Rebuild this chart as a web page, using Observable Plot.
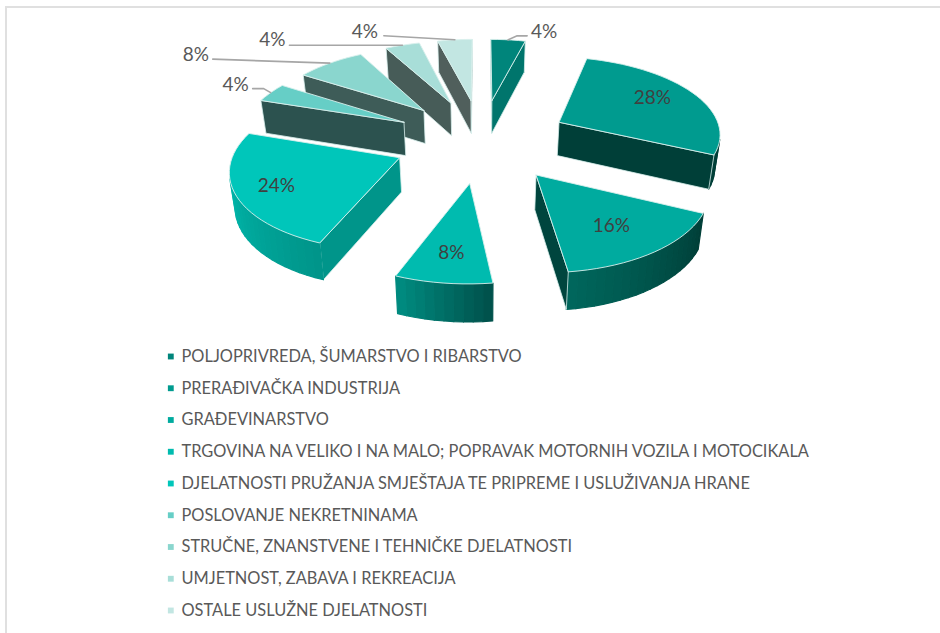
<!DOCTYPE html>
<html>
<head>
<meta charset="utf-8">
<script src="https://cdn.jsdelivr.net/npm/d3@7"></script>
<script src="https://cdn.jsdelivr.net/npm/@observablehq/plot@0.6"></script>
<style>
html,body{margin:0;padding:0;background:#fff;width:940px;height:633px;overflow:hidden}
#frame{position:absolute;left:5px;top:6px;right:-3px;bottom:-3px;border-left:2px solid #e0e0e0;border-top:2px solid #e0e0e0;pointer-events:none}
svg{display:block}
</style>
</head>
<body>
<div id="chart"></div>
<div id="frame"></div>
<script>
const categories = [
  "POLJOPRIVREDA, ŠUMARSTVO I RIBARSTVO",
  "PRERAĐIVAČKA INDUSTRIJA",
  "GRAĐEVINARSTVO",
  "TRGOVINA NA VELIKO I NA MALO; POPRAVAK MOTORNIH VOZILA I MOTOCIKALA",
  "DJELATNOSTI PRUŽANJA SMJEŠTAJA TE PRIPREME I USLUŽIVANJA HRANE",
  "POSLOVANJE NEKRETNINAMA",
  "STRUČNE, ZNANSTVENE I TEHNIČKE DJELATNOSTI",
  "UMJETNOST, ZABAVA I REKREACIJA",
  "OSTALE USLUŽNE DJELATNOSTI"
];
const shares = [4, 28, 16, 8, 24, 4, 8, 4, 4];
const topColors = ["#00857b","#009b8f","#00ab9f","#00bbaf","#00c6ba","#66cec6","#8ad6ce","#a8ded8","#c2e6e2"];
const radialColors = ["#00756c","#003f38","#00453e","#006b62","#00958a","#2c524f","#3e5c58","#475c58","#505f5c"];
const rimFrom = ["#00756c","#003f38","#00665c","#008a7f","#00b3a7","#2c524f","#3e5c58","#475c58","#505f5c"];
const rimTo = ["#00756c","#003f38","#003f38","#00524c","#00958a","#2c524f","#3e5c58","#475c58","#505f5c"];

// Projection of the exploded 3-D pie
const W = 940, pieH = 340, legendH = 293;
const cxPx = 481, cyPx = 139, a = 163, b = 77;
const explode = 0.54, persp = 0.118, depth = 0.45, shrink = 0.977;
const rad = d => d * Math.PI / 180;
const project = (X, Y, z) => {
  const w = 1 / (1 + persp * Y), k = z ? shrink : 1;
  return [X * w * k, (Y * w - z * depth * w) * k];
};
const total = d3.sum(shares);
let cum = 0;
const slices = shares.map((s, i) => {
  const start = cum / total * 360; cum += s;
  const end = cum / total * 360, mid = (start + end) / 2;
  const ox = explode * Math.sin(rad(mid)), oy = explode * Math.cos(rad(mid));
  const pt = (r, ang) => [ox + r * Math.sin(rad(ang)), oy + r * Math.cos(rad(ang))];
  return {i, start, end, mid, pt};
});
const apexY = s => project(...s.pt(0, 0), 0)[1];
const order = slices.slice().sort((p, q) => apexY(q) - apexY(p));

const edge = "#d8efec";
function faces(s) {
  const rows = [];
  const outline = [s.pt(0, 0)];
  const n = Math.max(2, Math.ceil((s.end - s.start) / 3));
  d3.range(n + 1).forEach(j => outline.push(s.pt(1, s.start + (s.end - s.start) * j / n)));
  const m = outline.length;
  const segs = [];
  outline.forEach((p, j) => {
    const q = outline[(j + 1) % m];
    const [ax, ay] = project(...p, 0), [bx, by] = project(...q, 0);
    const [cx, cy] = project(...q, 1), [dx, dy] = project(...p, 1);
    const quad = [[ax, ay], [bx, by], [cx, cy], [dx, dy]];
    const area = d3.sum(quad, (v, t) => {
      const u = quad[(t + 1) % 4];
      return v[0] * a * (-u[1] * b) - u[0] * a * (-v[1] * b);
    });
    if (area < 0) segs.push({quad, radial: j === 0 || j === m - 1});
  });
  const rim = segs.filter(d => !d.radial);
  const grad = d3.interpolateRgb(rimFrom[s.i], rimTo[s.i]);
  // rim runs clockwise, so it is painted from the screen's right to its left
  segs.forEach((d, f) => {
    const t = rim.length > 1 ? 1 - rim.indexOf(d) / (rim.length - 1) : 0;
    const fill = d.radial ? radialColors[s.i] : grad(t);
    [...d.quad, d.quad[0]].forEach(v => rows.push({
      x: v[0], y: v[1], face: `s${f}`, fill,
      stroke: d.radial ? edge : fill, sw: d.radial ? 0.8 : 1.2
    }));
  });
  [...outline, outline[0]].forEach(p => {
    const [x, y] = project(...p, 0);
    rows.push({x, y, face: "top", fill: topColors[s.i], stroke: edge, sw: 0.9});
  });
  return rows;
}
const polys = order.flatMap(s => {
  const rows = faces(s);
  return [Plot.line(rows, {x: "x", y: "y", z: "face", fill: "fill", stroke: "stroke", strokeWidth: "sw", strokeLinejoin: "round"})];
});

// Labels: inner ones sit on the slice's mid radius, outer ones hang from a leader
const labelText = shares.map(s => `${s}%`);
const innerRadius = {1: 0.69, 2: 0.66, 3: 0.72, 4: 0.76};
const innerShift = {1: -4, 2: 2, 3: 0, 4: 1};
const outer = {
  0: {via: [9, -4], end: [19, -4], label: [36, -8]},
  5: {via: [-7, -4], end: [-18, -4], label: [-35, -8]},
  6: {via: null, end: [-117, -4], label: [-134, -8]},
  7: {via: null, end: [-113, 0], label: [-130, -5]},
  8: {via: null, end: [-71, -4], label: [-90, -8]}
};
const u = (px, py) => [px / a, -py / b];
const textRows = [], leaderRows = [];
slices.forEach(s => {
  if (innerRadius[s.i]) {
    const [x, y] = project(...s.pt(innerRadius[s.i], s.mid), 0);
    textRows.push({x, y: y - innerShift[s.i] / b, t: labelText[s.i], c: "#404040"});
  } else {
    const o = outer[s.i];
    const [x, y] = project(...s.pt(1, s.mid), 0);
    const at = ([dx, dy]) => { const d = u(dx, dy); return {x: x + d[0], y: y + d[1], id: s.i}; };
    leaderRows.push(at([0, 0]));
    if (o.via) leaderRows.push(at(o.via));
    leaderRows.push(at(o.end));
    const l = at(o.label);
    textRows.push({x: l.x, y: l.y, t: labelText[s.i], c: "#595959"});
  }
});

const font = "Lato, Carlito, sans-serif";
const pie = Plot.plot({
  width: W, height: pieH, margin: 0,
  x: {domain: [-cxPx / a, (W - cxPx) / a], range: [0, W], axis: null},
  y: {domain: [cyPx / b, (cyPx - pieH) / b], range: [0, pieH], axis: null},
  color: {type: "identity"},
  style: {background: "transparent", fontFamily: font},
  marks: [
    ...polys,
    Plot.line(leaderRows, {x: "x", y: "y", z: "id", stroke: "#a6a6a6", strokeWidth: 1.6}),
    Plot.text(textRows, {x: "x", y: "y", text: "t", fill: "c", fontSize: 19, fontFamily: font})
  ]
});

const legend = Plot.plot({
  width: W, height: legendH, margin: 0,
  x: {domain: [0, W], range: [0, W], axis: null},
  y: {type: "point", domain: categories, range: [16, 270], padding: 0, round: false, axis: null},
  color: {type: "identity"},
  style: {background: "transparent", fontFamily: font},
  marks: [
    Plot.dot(categories, {x: () => 170.3, y: d => d, symbol: "square", r: 3.3, fill: (d, i) => topColors[i]}),
    Plot.text(categories, {x: () => 181, y: d => d, text: d => d, textAnchor: "start", fill: "#595959", fontSize: 16.4, fontFamily: font})
  ]
});
const host = document.getElementById("chart");
host.append(pie, legend);
</script>
</body>
</html>
